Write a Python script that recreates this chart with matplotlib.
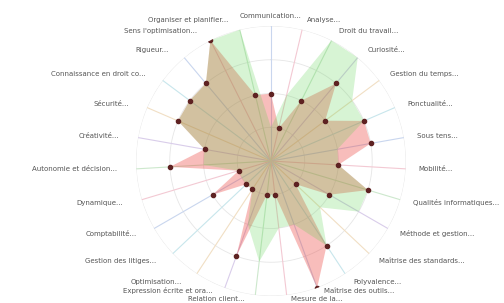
import matplotlib.pyplot as plt
import numpy as np

labels = [
    "Communication...", "Analyse...", "Droit du travail...", "Curiosité...",
    "Gestion du temps...", "Ponctualité...", "Sous tens...", "Mobilité...",
    "Qualités informatiques...", "Méthode et gestion...", "Maîtrise des standards...",
    "Polyvalence...", "Maîtrise des outils...", "Mesure de la...", "Relation client...",
    "Expression écrite et ora...", "Optimisation...", "Gestion des litiges...",
    "Comptabilité...", "Dynamique...", "Autonomie et décision...", "Créativité...",
    "Sécurité...", "Connaissance en droit co...", "Rigueur...",
    "Sens l'optimisation...", "Organiser et planifier...",
]
red_vals = [2, 1, 2, 3, 2, 3, 3, 2, 3, 2, 1, 3, 4, 1, 1, 3, 1, 1, 2, 1, 3, 2, 3, 3, 3, 4, 2]
green_vals = [1, 2, 4, 4, 3, 3, 2, 2, 3, 3, 2, 3, 2, 2, 3, 2, 1, 1, 1, 1, 2, 2, 3, 3, 3, 4, 4]

n = len(labels)
theta = np.arange(n) * 2 * np.pi / n
th = np.append(theta, theta[0])
red = np.append(red_vals, red_vals[0])
green = np.append(green_vals, green_vals[0])

fig = plt.figure(figsize=(5.04, 3.03), dpi=100)
ax = fig.add_axes([0.2698, 0.0231, 0.5357, 0.891], projection='polar')
ax.set_theta_zero_location('N')
ax.set_theta_direction(-1)
ax.set_ylim(0, 4)
ax.grid(False)
ax.spines['polar'].set_visible(False)
ax.set_xticks([])
ax.set_yticks([])
ax.patch.set_alpha(0)

# grid circles
circ = np.linspace(0, 2 * np.pi, 300)
for r in [1, 2, 3, 4]:
    ax.plot(circ, np.full_like(circ, r), color='#e6e6e6', lw=0.6, zorder=1)

# spokes in pastel colours
spoke_cols = ['#c9d6ee', '#f3c9d3', '#cde8cd', '#d9cdea', '#f1dfc4', '#c8e6ec']
for i, t in enumerate(theta):
    ax.plot([t, t], [0, 4], color=spoke_cols[i % len(spoke_cols)], lw=0.8, zorder=1)

ax.fill(th, red, color=(0.92, 0.22, 0.2), alpha=0.33, lw=0, zorder=2)
ax.fill(th, green, color=(0.35, 0.82, 0.3), alpha=0.24, lw=0, zorder=3)
ax.plot(theta, red_vals, 'o', color='#5e2222', ms=3, zorder=4)

# labels: ~145 px from centre plus a little horizontal padding
for t, lab in zip(theta, labels):
    s, c = np.sin(t), np.cos(t)
    if s > 0.05:
        ha, pad = 'left', 3
    elif s < -0.05:
        ha, pad = 'right', -9
    else:
        ha, pad = 'center', 0
    dx = 10 * s + pad
    dy = 10 * c
    if c < -0.97:
        dy = -4
    elif c < -0.9:
        dy = -3
    ax.annotate(lab, xy=(t, 4), xytext=(dx * 0.72, dy * 0.72), textcoords='offset points',
                fontsize=5, color='#555555', ha=ha, va='center', annotation_clip=False)

fig.savefig("out.png", dpi=100)
